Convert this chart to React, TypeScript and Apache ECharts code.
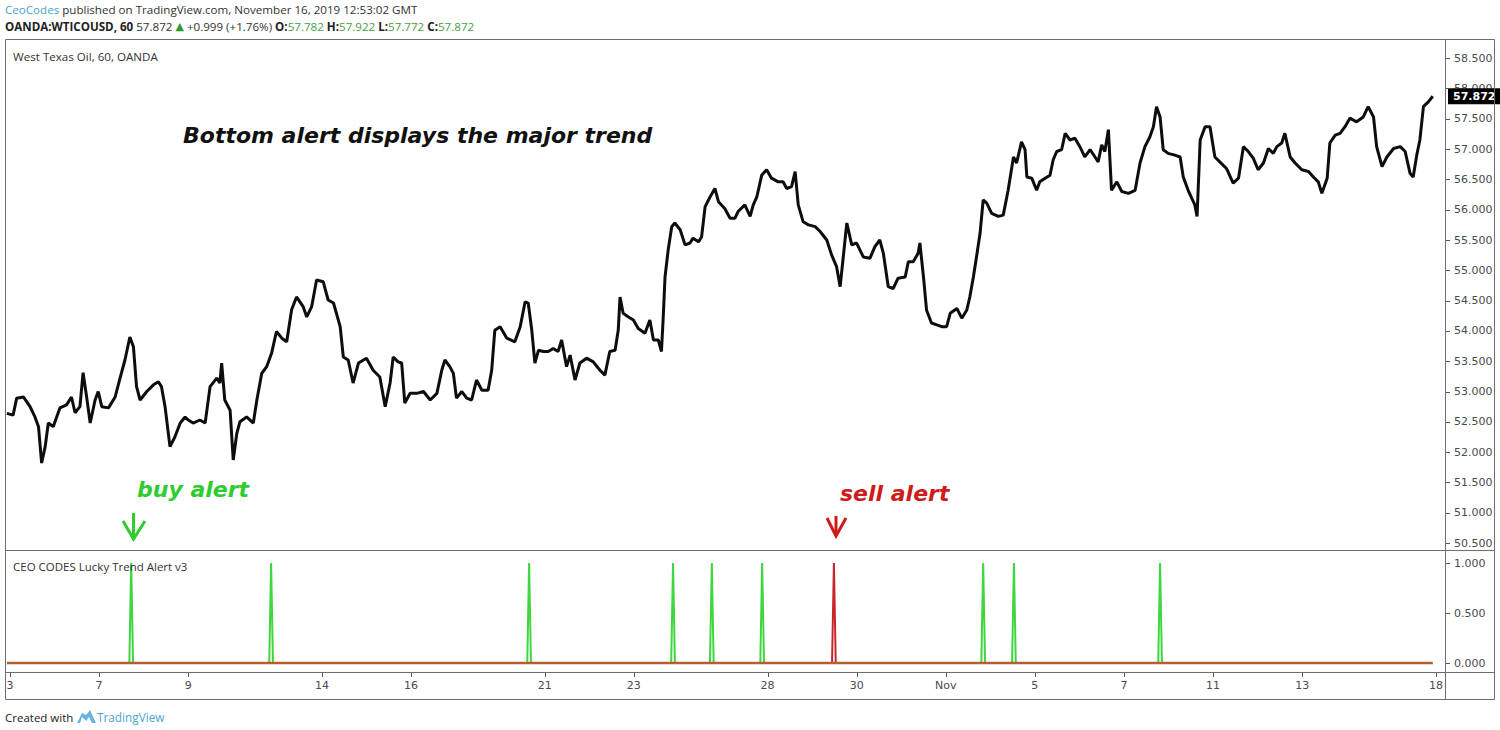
import React, { useEffect, useRef } from "react";
import * as echarts from "echarts";

// Session index: 0 = Oct 3, 1 = Oct 4, 2 = Oct 7 ... 32 = Nov 18 (fractions = time within the session)
const tickSessions = [0, 2, 4, 7, 9, 12, 14, 17, 19, 21, 23, 25, 27, 29, 32];
const tickLabels = ["3", "7", "9", "14", "16", "21", "23", "28", "30", "Nov", "5", "7", "11", "13", "18"];
const priceTicks = [50.5, 51, 51.5, 52, 52.5, 53, 53.5, 54, 54.5, 55, 55.5, 56, 56.5, 57, 57.5, 58, 58.5];
const alertTicks = [0, 0.5, 1];

// WTI close prices: [session time, price]
const octWeek1 = [
  [-0.07, 52.64], [0.07, 52.61], [0.15, 52.89], [0.3, 52.91], [0.45, 52.75], [0.56, 52.58], [0.64, 52.42],
  [0.71, 51.82], [0.79, 52.09], [0.86, 52.48], [0.97, 52.42], [1.12, 52.73], [1.27, 52.78], [1.38, 52.91],
  [1.46, 52.65], [1.57, 52.75], [1.64, 53.31], [1.72, 52.91], [1.8, 52.48], [1.91, 52.86], [1.98, 53.0],
];
const octWeek2 = [
  [2.06, 52.75], [2.21, 52.73], [2.36, 52.91], [2.47, 53.22], [2.58, 53.52], [2.69, 53.9], [2.77, 53.74],
  [2.84, 53.08], [2.92, 52.86], [3.07, 53.0], [3.22, 53.11], [3.33, 53.16], [3.4, 53.08], [3.48, 52.75],
  [3.59, 52.09], [3.7, 52.25], [3.82, 52.48], [3.93, 52.58], [4.0, 52.53], [4.11, 52.48], [4.26, 52.53],
  [4.38, 52.48], [4.49, 53.08], [4.64, 53.22], [4.71, 53.14], [4.75, 53.47], [4.82, 52.86], [4.94, 52.69],
  [5.01, 51.87], [5.09, 52.31], [5.16, 52.5], [5.31, 52.58], [5.46, 52.48], [5.54, 52.86], [5.65, 53.3],
  [5.76, 53.41], [5.87, 53.63], [5.98, 53.99], [6.1, 53.88], [6.21, 53.82], [6.32, 54.35], [6.43, 54.56],
  [6.58, 54.4], [6.66, 54.23], [6.77, 54.4], [6.88, 54.84],
];
const octWeek3 = [
  [7.03, 54.81], [7.14, 54.51], [7.26, 54.46], [7.41, 54.07], [7.48, 53.57], [7.59, 53.52], [7.7, 53.14],
  [7.82, 53.47], [8.0, 53.55], [8.15, 53.35], [8.3, 53.24], [8.42, 52.75], [8.53, 53.14], [8.6, 53.57],
  [8.71, 53.49], [8.79, 53.47], [8.86, 52.81], [8.98, 52.97], [9.13, 52.97], [9.28, 53.0], [9.43, 52.86],
  [9.58, 52.97], [9.69, 53.35], [9.76, 53.52], [9.87, 53.41], [9.95, 53.3], [10.02, 52.89], [10.14, 53.0],
  [10.25, 52.89], [10.36, 52.86], [10.47, 53.19], [10.59, 53.02], [10.73, 53.02], [10.81, 53.35], [10.88, 54.01],
  [11.0, 54.07], [11.15, 53.88], [11.33, 53.82], [11.45, 54.07], [11.56, 54.48], [11.63, 54.46], [11.71, 54.01],
  [11.78, 53.47], [11.86, 53.68], [11.97, 53.66],
];
const octWeek4 = [
  [12.08, 53.66], [12.19, 53.71], [12.3, 53.66], [12.38, 53.85], [12.49, 53.41], [12.57, 53.6], [12.68, 53.19],
  [12.79, 53.47], [12.94, 53.55], [13.09, 53.49], [13.24, 53.35], [13.35, 53.27], [13.46, 53.66], [13.58, 53.68],
  [13.65, 54.01], [13.69, 54.56], [13.76, 54.29], [13.88, 54.23], [13.99, 54.18], [14.1, 54.04], [14.25, 53.96],
  [14.36, 54.18], [14.44, 53.85], [14.55, 53.85], [14.62, 53.66], [14.66, 54.23], [14.7, 54.89], [14.77, 55.33],
  [14.85, 55.72], [14.92, 55.78], [15.04, 55.67], [15.15, 55.42], [15.26, 55.45], [15.33, 55.53], [15.45, 55.47],
  [15.52, 55.55], [15.6, 56.05], [15.71, 56.21], [15.82, 56.35], [15.9, 56.13], [16.04, 56.02], [16.16, 55.86],
  [16.27, 55.86], [16.34, 55.97], [16.49, 56.08], [16.61, 55.89], [16.68, 56.08], [16.76, 56.21], [16.87, 56.57],
  [16.98, 56.66],
];
const octWeek5 = [
  [17.09, 56.52], [17.24, 56.46], [17.35, 56.46], [17.43, 56.35], [17.54, 56.38], [17.62, 56.63], [17.69, 56.08],
  [17.8, 55.8], [17.92, 55.75], [18.07, 55.72], [18.18, 55.64], [18.33, 55.5], [18.44, 55.25], [18.55, 55.06],
  [18.63, 54.73], [18.7, 55.22], [18.78, 55.78], [18.89, 55.42], [19.0, 55.45], [19.15, 55.22], [19.3, 55.2],
  [19.41, 55.39], [19.52, 55.5], [19.6, 55.28], [19.71, 54.73], [19.82, 54.7], [19.93, 54.87], [20.09, 54.89],
  [20.16, 55.14], [20.27, 55.14], [20.38, 55.28], [20.42, 55.45], [20.5, 54.89], [20.57, 54.34], [20.68, 54.13],
  [20.8, 54.1], [20.91, 54.07], [21.02, 54.07], [21.1, 54.29], [21.25, 54.37], [21.36, 54.21], [21.47, 54.34],
  [21.54, 54.56], [21.62, 54.89], [21.69, 55.22], [21.77, 55.61], [21.84, 56.16], [21.92, 56.11],
];
const novWeek1 = [
  [22.03, 55.94], [22.18, 55.89], [22.29, 55.91], [22.4, 56.32], [22.52, 56.87], [22.59, 56.77], [22.7, 57.12],
  [22.78, 56.99], [22.82, 56.54], [22.93, 56.52], [23.04, 56.32], [23.11, 56.46], [23.23, 56.52], [23.34, 56.57],
  [23.41, 56.82], [23.49, 56.96], [23.6, 56.99], [23.68, 57.26], [23.79, 57.15], [23.9, 57.18], [24.01, 57.04],
  [24.12, 56.87], [24.24, 56.99], [24.35, 56.87], [24.42, 56.79], [24.5, 57.07], [24.57, 56.96], [24.65, 57.32],
  [24.72, 56.32], [24.84, 56.46], [24.95, 56.3], [25.1, 56.27], [25.25, 56.32], [25.36, 56.77], [25.47, 57.04],
  [25.58, 57.2], [25.66, 57.37], [25.73, 57.7], [25.81, 57.53], [25.88, 56.99], [25.99, 56.93], [26.14, 56.9],
  [26.26, 56.87], [26.33, 56.54], [26.44, 56.32], [26.52, 56.19], [26.59, 56.08], [26.64, 55.89], [26.71, 57.15],
  [26.82, 57.37], [26.93, 57.37],
];
const novWeek2 = [
  [27.04, 56.87], [27.15, 56.79], [27.3, 56.68], [27.45, 56.44], [27.57, 56.52], [27.68, 57.04], [27.79, 56.96],
  [27.9, 56.85], [28.01, 56.66], [28.13, 56.77], [28.24, 57.01], [28.35, 56.93], [28.43, 57.04], [28.54, 57.1],
  [28.61, 57.26], [28.73, 56.87], [28.84, 56.77], [28.99, 56.66], [29.14, 56.63], [29.25, 56.54], [29.36, 56.46],
  [29.44, 56.27], [29.56, 56.52], [29.62, 57.1], [29.74, 57.23], [29.85, 57.26], [29.96, 57.37], [30.07, 57.51],
  [30.22, 57.45], [30.37, 57.53], [30.48, 57.7], [30.6, 57.53], [30.67, 57.04], [30.79, 56.71], [30.9, 56.87],
  [31.05, 57.01], [31.2, 57.04], [31.31, 56.96], [31.42, 56.6], [31.49, 56.54], [31.57, 56.9], [31.64, 57.15],
  [31.72, 57.7], [31.83, 57.78], [31.93, 57.872],
];

// Lucky Trend Alert signal times
const buyAlerts = [2.72, 5.86, 11.65, 14.88, 15.75, 16.88, 21.84, 22.53, 25.81];
const sellAlerts = [18.49];
const barDays = 1 / 24;

// Header quote
const lastPrice = 57.872;
const priceChange = 0.999;
const changePct = 1.76;
const quoteKeys = ["O", "H", "L", "C"];
const quoteValues = [57.782, 57.922, 57.772, 57.872];

const AXIS_FONT = "DejaVu Sans";
const UI_FONT = "Open Sans";

export default function App() {
  const ref = useRef<HTMLDivElement>(null);

  useEffect(() => {
    if (!ref.current) return;
    const chart = echarts.init(ref.current, null, { renderer: "svg" });

    const priceData = [...octWeek1, ...octWeek2, ...octWeek3, ...octWeek4, ...octWeek5, ...novWeek1, ...novWeek2];
    const spikes = (times: number[]) =>
      times.flatMap((t) => [
        [t - barDays, 0],
        [t, 1],
        [t + barDays, 0],
      ]);
    const baseline = [
      [priceData[0][0], 0],
      [priceData[priceData.length - 1][0], 0],
    ];

    const quoteText =
      `{k|OANDA:WTICOUSD, 60} {n|${lastPrice.toFixed(3)}} {tri|▲} {n|+${priceChange.toFixed(3)} (+${changePct.toFixed(2)}%)} ` +
      quoteKeys.map((k, i) => `{k|${k}:}{g|${quoteValues[i].toFixed(3)}}`).join(" ");

    const xMin = -0.112;
    const xMax = 32.204;
    const frame = "#6e6e6e";
    const green = "#2fcc2f";
    const red = "#cc1c1c";
    const labelStyle = { fontFamily: AXIS_FONT, fontSize: 11, color: "#4a4a4a", margin: 9 };

    const baseGraphic: any[] = [
      // pane frame
      { type: "rect", z: 10, shape: { x: 5.5, y: 39.5, width: 1489, height: 660 }, style: { fill: "none", stroke: frame, lineWidth: 1 } },
      { type: "line", z: 10, shape: { x1: 5, y1: 550.5, x2: 1494, y2: 550.5 }, style: { stroke: frame, lineWidth: 1 } },
      { type: "line", z: 10, shape: { x1: 5, y1: 672.5, x2: 1494, y2: 672.5 }, style: { stroke: frame, lineWidth: 1 } },
      { type: "line", z: 10, shape: { x1: 1445.5, y1: 40, x2: 1445.5, y2: 699 }, style: { stroke: frame, lineWidth: 1 } },
      // header
      {
        type: "text",
        z: 10,
        style: {
          x: 5,
          y: 9,
          verticalAlign: "middle",
          text: "{a|CeoCodes}{b| published on TradingView.com, November 16, 2019 12:53:02 GMT}",
          font: `11.6px "${UI_FONT}"`,
          rich: {
            a: { fill: "#4aa3c7", fontFamily: UI_FONT, fontSize: 11.6 },
            b: { fill: "#333", fontFamily: UI_FONT, fontSize: 11.6 },
          },
        },
      },
      {
        type: "text",
        z: 10,
        style: {
          x: 5,
          y: 26,
          verticalAlign: "middle",
          text: quoteText,
          font: `11.6px "${UI_FONT}"`,
          rich: {
            k: { fill: "#222", fontFamily: UI_FONT, fontSize: 11.6, fontWeight: "bold" },
            n: { fill: "#333", fontFamily: UI_FONT, fontSize: 11.6 },
            g: { fill: "#4a9e4a", fontFamily: UI_FONT, fontSize: 11.6 },
            tri: { fill: "#2e9a2e", fontFamily: AXIS_FONT, fontSize: 11 },
          },
        },
      },
      {
        type: "text",
        z: 10,
        style: { x: 13, y: 56, verticalAlign: "middle", text: "West Texas Oil, 60, OANDA", font: `11.6px "${UI_FONT}"`, fill: "#333" },
      },
      {
        type: "text",
        z: 10,
        style: {
          x: 183,
          y: 135,
          verticalAlign: "middle",
          text: "Bottom alert displays the major trend",
          font: `italic bold 22px "${AXIS_FONT}"`,
          fill: "#111",
        },
      },
      {
        type: "text",
        z: 10,
        style: { x: 137, y: 489, verticalAlign: "middle", text: "buy alert", font: `italic bold 22px "${AXIS_FONT}"`, fill: green },
      },
      {
        type: "text",
        z: 10,
        style: { x: 840, y: 493, verticalAlign: "middle", text: "sell alert", font: `italic bold 22px "${AXIS_FONT}"`, fill: red },
      },
      // arrows
      { type: "line", z: 10, shape: { x1: 133.5, y1: 513, x2: 133.5, y2: 538 }, style: { stroke: green, lineWidth: 3 } },
      { type: "polyline", z: 10, shape: { points: [[123, 521], [133.5, 539], [145, 521]] }, style: { stroke: green, lineWidth: 3, fill: "none" } },
      { type: "line", z: 10, shape: { x1: 836, y1: 516, x2: 836, y2: 535 }, style: { stroke: red, lineWidth: 3 } },
      { type: "polyline", z: 10, shape: { points: [[827, 518], [836, 536], [846, 518]] }, style: { stroke: red, lineWidth: 3, fill: "none" } },
      {
        type: "text",
        z: 10,
        style: { x: 13, y: 566, verticalAlign: "middle", text: "CEO CODES Lucky Trend Alert v3", font: `11.5px "${UI_FONT}"`, fill: "#333" },
      },
      // footer
      {
        type: "text",
        z: 10,
        style: { x: 5, y: 717, verticalAlign: "middle", text: "Created with", font: `11.5px "${UI_FONT}"`, fill: "#222" },
      },
      {
        type: "polygon",
        z: 10,
        shape: { points: [[77, 723], [82, 713], [86, 715], [90, 710], [96, 723], [92, 723], [89, 717], [86, 721], [82, 717], [80, 723]] },
        style: { fill: "#69b4e0" },
      },
      {
        type: "text",
        z: 10,
        style: { x: 97, y: 717, verticalAlign: "middle", text: "TradingView", font: `11.8px "${UI_FONT}"`, fill: "#4fa3d1" },
      },
    ];

    const option: any = {
      animation: false,
      backgroundColor: "#ffffff",
      grid: [
        { left: 5, top: 40, width: 1440, height: 510 },
        { left: 5, top: 551, width: 1440, height: 121 },
      ],
      xAxis: [
        { type: "value", gridIndex: 0, min: xMin, max: xMax, show: false },
        {
          type: "value",
          gridIndex: 1,
          min: xMin,
          max: xMax,
          axisLine: { show: false },
          splitLine: { show: false },
          axisTick: { show: false },
          axisLabel: {
            ...labelStyle,
            customValues: tickSessions,
            formatter: (v: number) => {
              const i = tickSessions.indexOf(Math.round(v));
              return i >= 0 ? tickLabels[i] : "";
            },
            margin: 8,
          },
        },
      ],
      yAxis: [
        {
          type: "value",
          gridIndex: 0,
          position: "right",
          min: 50.385,
          max: 58.8,
          axisLine: { show: false },
          splitLine: { show: false },
          axisTick: { show: false },
          axisLabel: { ...labelStyle, customValues: priceTicks, formatter: (v: number) => v.toFixed(3) },
        },
        {
          type: "value",
          gridIndex: 1,
          position: "right",
          min: -0.09,
          max: 1.12,
          axisLine: { show: false },
          splitLine: { show: false },
          axisTick: { show: false },
          axisLabel: { ...labelStyle, customValues: alertTicks, formatter: (v: number) => v.toFixed(3) },
        },
      ],
      series: [
        {
          name: "WTI",
          type: "line",
          xAxisIndex: 0,
          yAxisIndex: 0,
          data: priceData,
          showSymbol: false,
          symbol: "none",
          lineStyle: { color: "#0d0d0d", width: 3 },
          emphasis: { disabled: true },
          markLine: {
            silent: true,
            symbol: ["none", "none"],
            lineStyle: { color: "rgba(0,0,0,0)", width: 1, type: "solid" },
            data: [{ yAxis: lastPrice }],
            label: {
              show: true,
              position: "end",
              distance: 3,
              formatter: () => lastPrice.toFixed(3),
              backgroundColor: "#000000",
              color: "#ffffff",
              opacity: 1,
              fontWeight: "bold",
              fontFamily: AXIS_FONT,
              fontSize: 11,
              padding: [3, 5, 2, 5],
            },
            emphasis: { disabled: true },
          },
        },
        {
          name: "Buy",
          type: "line",
          xAxisIndex: 1,
          yAxisIndex: 1,
          data: spikes(buyAlerts),
          showSymbol: false,
          symbol: "none",
          lineStyle: { color: "#3fd63f", width: 2 },
          emphasis: { disabled: true },
          z: 2,
        },
        {
          name: "Sell",
          type: "line",
          xAxisIndex: 1,
          yAxisIndex: 1,
          data: spikes(sellAlerts),
          showSymbol: false,
          symbol: "none",
          lineStyle: { color: "#c9262b", width: 2 },
          emphasis: { disabled: true },
          z: 3,
        },
        {
          name: "Zero",
          type: "line",
          xAxisIndex: 1,
          yAxisIndex: 1,
          data: baseline,
          showSymbol: false,
          symbol: "none",
          lineStyle: { color: "#b3602e", width: 2.6 },
          emphasis: { disabled: true },
          z: 4,
        },
      ],
      graphic: baseGraphic,
    };

    chart.setOption(option);

    // axis ticks placed through the axes' own scales
    const tickStyle = { stroke: "#555", lineWidth: 1 };
    const ticks: any[] = [];
    priceTicks.forEach((v) => {
      const y = Math.round(chart.convertToPixel({ yAxisIndex: 0 }, v) as number) + 0.5;
      ticks.push({ type: "line", z: 10, shape: { x1: 1446, y1: y, x2: 1450, y2: y }, style: tickStyle });
    });
    alertTicks.forEach((v) => {
      const y = Math.round(chart.convertToPixel({ yAxisIndex: 1 }, v) as number) + 0.5;
      ticks.push({ type: "line", z: 10, shape: { x1: 1446, y1: y, x2: 1450, y2: y }, style: tickStyle });
    });
    tickSessions.forEach((v) => {
      const x = Math.round(chart.convertToPixel({ xAxisIndex: 1 }, v) as number) + 0.5;
      ticks.push({ type: "line", z: 10, shape: { x1: x, y1: 673, x2: x, y2: 677 }, style: tickStyle });
    });
    chart.setOption({ graphic: [...baseGraphic, ...ticks] });

    return () => chart.dispose();
  }, []);

  return (
    <div
      ref={ref}
      style={{ position: "fixed", left: 0, top: 0, width: 1500, height: 730, background: "#fff" }}
    />
  );
}
